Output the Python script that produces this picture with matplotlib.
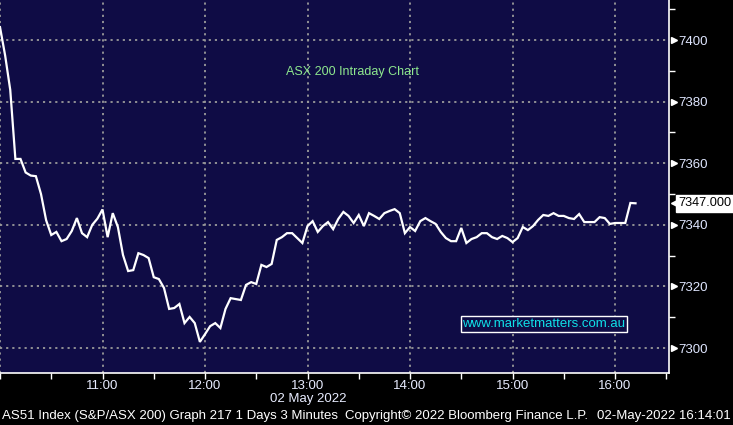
import matplotlib
matplotlib.use("Agg")
import matplotlib.pyplot as plt
import matplotlib.dates as mdates
import matplotlib.transforms as mtransforms
import pandas as pd
import numpy as np

plt.rcParams['font.family'] = ['Liberation Sans', 'DejaVu Sans']

# ASX 200 intraday, 3-minute bars from 10:00 on 02 May 2022
values = [
    7404.2, 7395.0, 7383.8, 7361.4, 7361.4, 7357.0, 7356.0, 7355.8, 7350.0, 7341.5,
    7336.7, 7337.7, 7334.7, 7335.4, 7338.0, 7342.2, 7337.3, 7336.0, 7340.0, 7342.0,
    7345.0, 7336.0, 7343.8, 7339.3, 7330.2, 7325.0, 7325.3, 7330.8, 7330.2, 7329.2,
    7323.0, 7322.4, 7319.5, 7312.7, 7313.0, 7314.3, 7308.1, 7310.1, 7308.1, 7302.0,
    7304.5, 7307.1, 7308.1, 7306.5, 7312.7, 7316.2, 7315.9, 7315.6, 7320.5, 7321.4,
    7320.8, 7327.0, 7326.3, 7327.3, 7335.1, 7336.0, 7337.3, 7337.3, 7335.7, 7334.1,
    7339.6, 7341.2, 7337.7, 7339.6, 7340.9, 7338.6, 7341.9, 7344.2, 7342.9, 7340.6,
    7343.2, 7339.6, 7343.8, 7342.9, 7341.9, 7343.8, 7344.5, 7345.1, 7343.8, 7337.3,
    7339.3, 7338.0, 7341.2, 7342.2, 7341.2, 7340.3, 7337.7, 7335.7, 7334.7, 7334.7,
    7339.0, 7334.1, 7335.4, 7336.0, 7337.3, 7337.3, 7336.0, 7335.4, 7336.4, 7335.7,
    7334.4, 7335.7, 7339.3, 7338.3, 7339.6, 7341.6, 7343.2, 7342.9, 7343.8, 7342.9,
    7342.9, 7342.2, 7341.9, 7343.5, 7340.9, 7340.9, 7340.9, 7342.5, 7342.2, 7340.3,
    7340.6, 7340.6, 7340.6, 7347.1, 7347.0,
]
start_time = "2022-05-02 10:00"
y_ticks = [7300, 7320, 7340, 7360, 7380, 7400]
y_minor = [7310, 7330, 7350, 7370, 7390, 7410]
last_label = "7347.000"
title_text = "ASX 200 Intraday Chart"
site_text = "www.marketmatters.com.au"
date_text = "02 May 2022"
footer_left = "AS51 Index (S&P/ASX 200) Graph 217 1 Days 3 Minutes"
footer_mid = "Copyright\u00a9 2022 Bloomberg Finance L.P."
footer_right = "02-May-2022 16:14:01"

times = pd.date_range(start_time, periods=len(values), freq="3min")

W, H = 733, 425
fig = plt.figure(figsize=(W / 100, H / 100), dpi=100, facecolor="black")
ax = fig.add_axes([0, 1 - 373 / H, 669 / W, 373 / H])
bg = "#0f0c45"
ax.set_facecolor(bg)

ax.plot(times, values, color="white", lw=1.6, solid_joinstyle="miter", zorder=3)

t0 = pd.Timestamp(start_time)
ax.set_xlim(t0, t0 + pd.Timedelta(minutes=391.6))
ax.set_ylim(7291.9, 7413.0)

# grid
grid_kw = dict(color="#9a9a9a", lw=1.3, linestyle=(0, (1.2, 2.2)), zorder=1)
for yv in y_ticks:
    ax.axhline(yv, **grid_kw)
for h in range(10, 17):
    ax.axvline(t0 + pd.Timedelta(hours=h - 10), **grid_kw)

# spines
for s in ["left", "top"]:
    ax.spines[s].set_visible(False)
for s in ["right", "bottom"]:
    ax.spines[s].set_color("white")
    ax.spines[s].set_linewidth(1.2)

# x axis
ax.xaxis.set_major_locator(mdates.HourLocator(byhour=range(11, 17)))
ax.xaxis.set_major_formatter(mdates.DateFormatter("%H:%M"))
ax.xaxis.set_minor_locator(mdates.MinuteLocator(byminute=[0, 30]))
ax.tick_params(axis="x", which="both", colors="white", length=4, width=1,
               direction="out", labelsize=9.5, labelcolor="#e8ecff", pad=1)

# y axis on right
ax.yaxis.tick_right()
ax.set_yticks(y_ticks)
ax.set_yticks(y_minor, minor=True)
ax.tick_params(axis="y", which="major", length=0, pad=6.5, labelsize=9.5,
               labelcolor="#dfe6ff")
ax.tick_params(axis="y", which="minor", length=4, width=1, colors="white",
               direction="out")

trans = mtransforms.blended_transform_factory(ax.transAxes, ax.transData)
tri_trans = trans + mtransforms.ScaledTranslation(3.5 / 72, 0, fig.dpi_scale_trans)
ax.plot([1.0] * len(y_ticks), y_ticks, linestyle="none", marker=">",
        markersize=4.5, color="white", transform=tri_trans, clip_on=False, zorder=5)

# last value callout
tag_trans = trans + mtransforms.ScaledTranslation(5.5 / 72, 0, fig.dpi_scale_trans)
ax.plot([1.0], [values[-1]], linestyle="none", marker="<", markersize=9,
        color="white", transform=tag_trans, clip_on=False, zorder=6)
ax.annotate(last_label, xy=(1.0, values[-1]), xycoords=trans,
            xytext=(6.8, 0), textcoords="offset points", ha="left", va="center",
            fontsize=9.2, color="black", annotation_clip=False, zorder=7,
            bbox=dict(boxstyle="square,pad=0.2", fc="white", ec="white"))

# texts
fig.text(352 / W, 1 - 72 / H, title_text, color="#8ee88e", fontsize=9,
         ha="center", va="center")
fig.text(544 / W, 1 - 324 / H, site_text, color="#10e0e8", fontsize=9.5,
         ha="center", va="center",
         bbox=dict(boxstyle="square,pad=0.15", fc=bg, ec="white", lw=1))
fig.text(308 / W, 1 - 399 / H, date_text, color="#e8ecff", fontsize=9.5,
         ha="center", va="center")
fig.text(2 / W, 1 - 416 / H, footer_left, color="white", fontsize=9.5,
         ha="left", va="center")
fig.text(345 / W, 1 - 416 / H, footer_mid, color="white", fontsize=9.5,
         ha="left", va="center")
fig.text(731 / W, 1 - 416 / H, footer_right, color="white", fontsize=9.5,
         ha="right", va="center")

fig.savefig("out.png", dpi=100, facecolor="black")
